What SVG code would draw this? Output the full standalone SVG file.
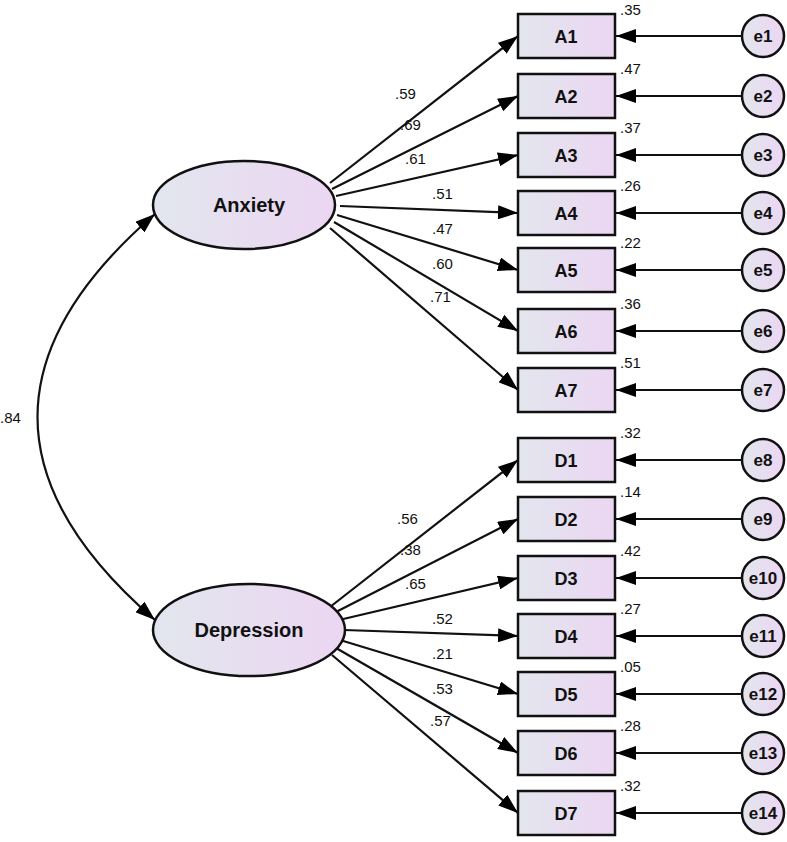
<svg xmlns="http://www.w3.org/2000/svg" width="787" height="842" viewBox="0 0 787 842">
<defs>
<linearGradient id="g" x1="0" y1="0" x2="1" y2="0"><stop offset="0" stop-color="#e2e6ee"/><stop offset="1" stop-color="#ecd6f2"/></linearGradient>
<marker id="ah" viewBox="0 0 20 14" refX="20" refY="7" markerWidth="20" markerHeight="14" markerUnits="userSpaceOnUse" orient="auto-start-reverse"><path d="M0,0L20,7L0,14z" fill="#000"/></marker>
<style>
.n{fill:url(#g);stroke:#111;stroke-width:2.5}
.t{font-family:"Liberation Sans",Arial,sans-serif;font-weight:bold;fill:#111;text-anchor:middle}
.l{font-family:"Liberation Sans",Arial,sans-serif;font-size:15px;fill:#111}
.c line,.c path{stroke:#111;stroke-width:2.2;fill:none;marker-end:url(#ah)}
</style>
</defs>
<rect width="787" height="842" fill="#fff"/>
<g class="c" id="connectors">
<path d="M155,214 Q-80,417 155,620" style="marker-start:url(#ah)"/>
<line x1="330" y1="183" x2="518" y2="36"/>
<line x1="332" y1="189" x2="518" y2="96"/>
<line x1="336" y1="196" x2="518" y2="155"/>
<line x1="340" y1="206" x2="518" y2="213"/>
<line x1="337" y1="215" x2="518" y2="270"/>
<line x1="334" y1="222" x2="518" y2="331"/>
<line x1="330" y1="228" x2="518" y2="390"/>
<line x1="330" y1="607" x2="518" y2="460"/>
<line x1="334" y1="613" x2="518" y2="519"/>
<line x1="339" y1="620" x2="518" y2="578"/>
<line x1="344" y1="630" x2="518" y2="636"/>
<line x1="340" y1="640" x2="518" y2="694"/>
<line x1="336" y1="648" x2="518" y2="753"/>
<line x1="332" y1="655" x2="518" y2="813"/>
<line x1="742" y1="36" x2="616" y2="36"/>
<line x1="742" y1="96" x2="616" y2="96"/>
<line x1="742" y1="155" x2="616" y2="155"/>
<line x1="742" y1="213" x2="616" y2="213"/>
<line x1="742" y1="270" x2="616" y2="270"/>
<line x1="742" y1="331" x2="616" y2="331"/>
<line x1="742" y1="390" x2="616" y2="390"/>
<line x1="742" y1="460" x2="616" y2="460"/>
<line x1="742" y1="519" x2="616" y2="519"/>
<line x1="742" y1="578" x2="616" y2="578"/>
<line x1="742" y1="636" x2="616" y2="636"/>
<line x1="742" y1="694" x2="616" y2="694"/>
<line x1="742" y1="753" x2="616" y2="753"/>
<line x1="742" y1="813" x2="616" y2="813"/>
</g>
<g id="labels" class="l">
<text x="0" y="423">.84</text>
<text x="395" y="99">.59</text><text x="400" y="130">.69</text><text x="405" y="164">.61</text><text x="432" y="199">.51</text><text x="432" y="234">.47</text><text x="432" y="269">.60</text><text x="430" y="302">.71</text>
<text x="397" y="524">.56</text><text x="400" y="555">.38</text><text x="405" y="589">.65</text><text x="432" y="624">.52</text><text x="432" y="659">.21</text><text x="432" y="694">.53</text><text x="430" y="726">.57</text>
<text x="620" y="15">.35</text><text x="620" y="74">.47</text><text x="620" y="133">.37</text><text x="620" y="191">.26</text><text x="620" y="248">.22</text><text x="620" y="309">.36</text><text x="620" y="368">.51</text>
<text x="620" y="438">.32</text><text x="620" y="497">.14</text><text x="620" y="556">.42</text><text x="620" y="614">.27</text><text x="620" y="672">.05</text><text x="620" y="731">.28</text><text x="620" y="791">.32</text>
</g>
<g id="Anxiety"><ellipse class="n" cx="244" cy="205" rx="91" ry="44"/><text class="t" x="249" y="212" font-size="20">Anxiety</text></g>
<g id="Depression"><ellipse class="n" cx="249" cy="630" rx="96" ry="46"/><text class="t" x="249" y="637" font-size="20">Depression</text></g>
<g id="A1"><rect class="n" x="518" y="14" width="97" height="44"/><text class="t" x="566" y="43" font-size="18">A1</text></g>
<g id="A2"><rect class="n" x="518" y="74" width="97" height="44"/><text class="t" x="566" y="103" font-size="18">A2</text></g>
<g id="A3"><rect class="n" x="518" y="133" width="97" height="44"/><text class="t" x="566" y="162" font-size="18">A3</text></g>
<g id="A4"><rect class="n" x="518" y="191" width="97" height="44"/><text class="t" x="566" y="220" font-size="18">A4</text></g>
<g id="A5"><rect class="n" x="518" y="248" width="97" height="44"/><text class="t" x="566" y="277" font-size="18">A5</text></g>
<g id="A6"><rect class="n" x="518" y="309" width="97" height="44"/><text class="t" x="566" y="338" font-size="18">A6</text></g>
<g id="A7"><rect class="n" x="518" y="368" width="97" height="44"/><text class="t" x="566" y="397" font-size="18">A7</text></g>
<g id="D1"><rect class="n" x="518" y="438" width="97" height="44"/><text class="t" x="566" y="467" font-size="18">D1</text></g>
<g id="D2"><rect class="n" x="518" y="497" width="97" height="44"/><text class="t" x="566" y="526" font-size="18">D2</text></g>
<g id="D3"><rect class="n" x="518" y="556" width="97" height="44"/><text class="t" x="566" y="585" font-size="18">D3</text></g>
<g id="D4"><rect class="n" x="518" y="614" width="97" height="44"/><text class="t" x="566" y="643" font-size="18">D4</text></g>
<g id="D5"><rect class="n" x="518" y="672" width="97" height="44"/><text class="t" x="566" y="701" font-size="18">D5</text></g>
<g id="D6"><rect class="n" x="518" y="731" width="97" height="44"/><text class="t" x="566" y="760" font-size="18">D6</text></g>
<g id="D7"><rect class="n" x="518" y="791" width="97" height="44"/><text class="t" x="566" y="820" font-size="18">D7</text></g>
<g id="e1"><circle class="n" cx="763" cy="36" r="21"/><text class="t" x="763" y="42" font-size="17">e1</text></g>
<g id="e2"><circle class="n" cx="763" cy="96" r="21"/><text class="t" x="763" y="102" font-size="17">e2</text></g>
<g id="e3"><circle class="n" cx="763" cy="155" r="21"/><text class="t" x="763" y="161" font-size="17">e3</text></g>
<g id="e4"><circle class="n" cx="763" cy="213" r="21"/><text class="t" x="763" y="219" font-size="17">e4</text></g>
<g id="e5"><circle class="n" cx="763" cy="270" r="21"/><text class="t" x="763" y="276" font-size="17">e5</text></g>
<g id="e6"><circle class="n" cx="763" cy="331" r="21"/><text class="t" x="763" y="337" font-size="17">e6</text></g>
<g id="e7"><circle class="n" cx="763" cy="390" r="21"/><text class="t" x="763" y="396" font-size="17">e7</text></g>
<g id="e8"><circle class="n" cx="763" cy="460" r="21"/><text class="t" x="763" y="466" font-size="17">e8</text></g>
<g id="e9"><circle class="n" cx="763" cy="519" r="21"/><text class="t" x="763" y="525" font-size="17">e9</text></g>
<g id="e10"><circle class="n" cx="763" cy="578" r="21"/><text class="t" x="763" y="584" font-size="17">e10</text></g>
<g id="e11"><circle class="n" cx="763" cy="636" r="21"/><text class="t" x="763" y="642" font-size="17">e11</text></g>
<g id="e12"><circle class="n" cx="763" cy="694" r="21"/><text class="t" x="763" y="700" font-size="17">e12</text></g>
<g id="e13"><circle class="n" cx="763" cy="753" r="21"/><text class="t" x="763" y="759" font-size="17">e13</text></g>
<g id="e14"><circle class="n" cx="763" cy="813" r="21"/><text class="t" x="763" y="819" font-size="17">e14</text></g>
</svg>
